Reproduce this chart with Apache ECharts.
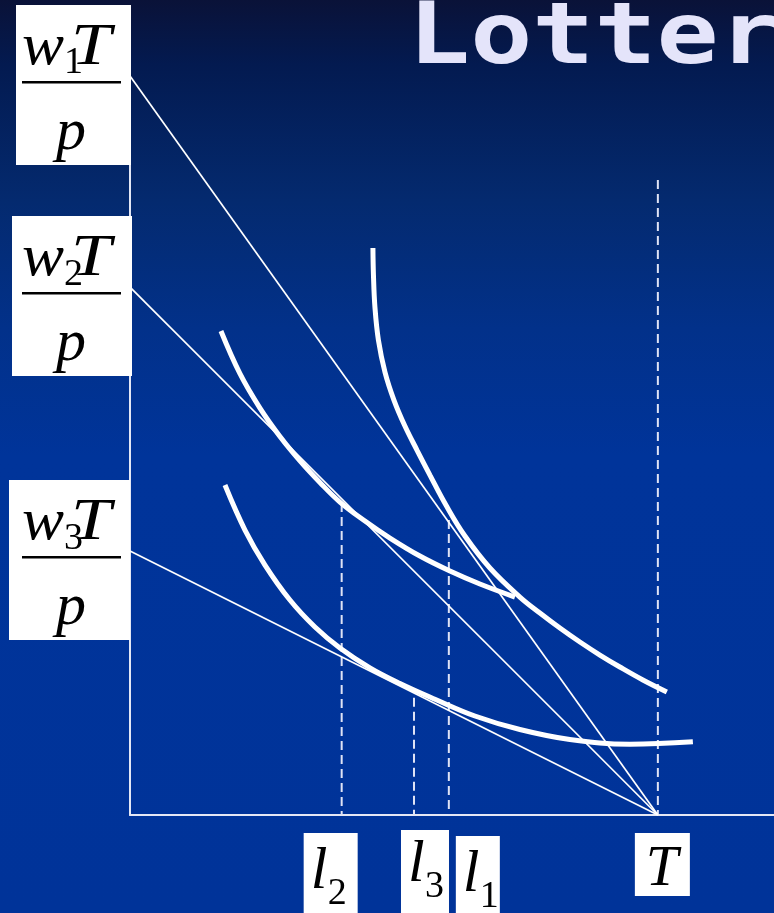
<!DOCTYPE html>
<html>
<head>
<meta charset="utf-8">
<script src="https://cdn.jsdelivr.net/npm/echarts@6/dist/echarts.min.js"></script>
<style>
html,body{margin:0;padding:0;width:774px;height:913px;overflow:hidden;}
#c{width:774px;height:913px;}
</style>
</head>
<body>
<div id="c"></div>
<script>
// ---- data ----
const titleText = 'Lottery';
const totalTime = 100;                       // T
const interceptSubs = ['1', '2', '3'];       // w1T/p, w2T/p, w3T/p
const budgetIntercepts = [140, 100, 50];     // vertical intercepts of budget lines
const hourSubs = ['2', '3', '1'];            // l2, l3, l1
const hourValues = [40.1, 53.8, 60.4];       // chosen leisure hours
const hourTops = [59.1, 22.2, 55.9];         // top of dashed guide lines
const totalTop = 120.3;                      // top of dashed line at T

const icHigh = [[46.02,107.39],[46.12,102.27],[46.40,96.21],[47.06,89.96],[48.30,83.90],[50.00,78.60],[52.08,73.67],[54.36,69.13],[56.82,64.39],[59.85,58.71],[63.45,52.84],[68.18,46.78],[73.86,41.29],[77.65,38.26],[81.44,35.42],[85.23,32.77],[89.02,30.30],[92.80,28.03],[97.16,25.57],[101.70,23.30]];
const icMid = [[17.23,91.67],[20.83,83.60],[24.62,77.08],[28.41,71.70],[32.20,67.08],[35.98,62.99],[39.77,59.28],[44.51,55.68],[49.24,52.46],[54.92,49.05],[60.61,46.21],[66.29,43.75],[72.92,41.29]];
const icLow = [[17.99,62.50],[21.78,53.98],[25.57,47.35],[30.30,40.72],[35.04,35.61],[39.77,31.63],[45.45,27.88],[51.14,24.92],[57.77,21.93],[65.34,18.75],[73.86,16.19],[83.33,14.30],[94.70,13.39],[106.63,13.86]];

// ---- chart ----
const chart = echarts.init(document.getElementById('c'), null, {renderer: 'canvas'});
const axisCommon = {
  type: 'value',
  axisLine: {show: true, onZero: false, lineStyle: {color: '#e4e7f5', width: 2}},
  axisTick: {show: false},
  axisLabel: {show: false},
  splitLine: {show: false}
};
const series = [];
budgetIntercepts.forEach((b, i) => {
  series.push({
    type: 'line', name: 'budget' + (i + 1), symbol: 'none', silent: true,
    data: [[0, b], [totalTime, 0]],
    lineStyle: {color: '#ffffff', width: 1.7}, z: 3
  });
});
[icHigh, icMid, icLow].forEach((d, i) => {
  series.push({
    type: 'line', name: 'ic' + i, symbol: 'none', smooth: 0.4, silent: true,
    data: d,
    lineStyle: {color: '#ffffff', width: 5, cap: 'butt'}, z: 4
  });
});
hourValues.concat([totalTime]).forEach((h, i) => {
  const top = i < hourTops.length ? hourTops[i] : totalTop;
  series.push({
    type: 'line', name: 'guide' + i, symbol: 'none', silent: true,
    data: [[h, top], [h, 0]],
    lineStyle: {color: '#dfe3f5', width: 2, type: [9, 5]}, z: 2
  });
});

chart.setOption({
  animation: false,
  backgroundColor: {
    type: 'linear', x: 0, y: 0, x2: 0, y2: 1,
    colorStops: [
      {offset: 0, color: '#0a1238'},
      {offset: 0.07, color: '#031a50'},
      {offset: 0.22, color: '#042a6f'},
      {offset: 0.36, color: '#02318a'},
      {offset: 0.5, color: '#00349a'},
      {offset: 1, color: '#003399'}
    ]
  },
  grid: {left: 130, right: 0, top: 40, bottom: 98},
  xAxis: Object.assign({}, axisCommon, {min: 0, max: 122}),
  yAxis: Object.assign({}, axisCommon, {min: 0, max: 146.8}),
  series: series
});

// ---- labels (white boxes with math text) ----
const K = 0.3; // baseline offset for middle-aligned serif text
function txt(x, baseline, text, size, italic, align, sx) {
  return {
    type: 'text', x: x, y: baseline - K * size, z: 50,
    scaleX: sx || 1,
    style: {
      text: text,
      font: (italic ? 'italic ' : '') + size + 'px "Liberation Serif"',
      fill: '#000000',
      textAlign: align || 'left',
      textVerticalAlign: 'middle'
    }
  };
}
const graphics = [];
graphics.push({
  type: 'text', x: 408, y: 66 - 0.297 * 86, z: 60, scaleX: 1.2,
  style: {text: titleText, font: 'bold 86px "DejaVu Sans Mono"', fill: '#E4E4FA', textAlign: 'left', textVerticalAlign: 'middle'}
});
const boxLayout = [
  {left: 16, w: 115},
  {left: 12, w: 120},
  {left: 9, w: 121}
];
const boxH = 160;
budgetIntercepts.forEach((b, i) => {
  const py = chart.convertToPixel({gridIndex: 0}, [0, b])[1];
  const top = py + 9 - boxH / 2;
  const B = boxLayout[i];
  const a = -B.left; // children use absolute x
  graphics.push({
    type: 'group', x: B.left, y: top, z: 50,
    children: [
      {type: 'rect', shape: {x: 0, y: 0, width: B.w, height: boxH}, style: {fill: '#ffffff'}, z: 49},
      txt(22 + a, 61, 'w', 60, true, 'left', 1.05),
      txt(64 + a, 70, interceptSubs[i], 38, false),
      txt(71 + a, 61, 'T', 60, true, 'left', 1.2),
      {type: 'rect', shape: {x: 22 + a, y: 76, width: 99, height: 2.5}, style: {fill: '#000000'}, z: 50},
      txt(71 + a, 146, 'p', 60, true, 'center')
    ]
  });
});
// bottom labels: offsets relative to guide positions
const bottomLayout = [
  {dx: -38, dy: 18, w: 54, h: 90, base: 57},
  {dx: -13, dy: 15, w: 48, h: 90, base: 53},
  {dx: 7, dy: 21, w: 44, h: 90, base: 57}
];
hourValues.forEach((h, i) => {
  const p = chart.convertToPixel({gridIndex: 0}, [h, 0]);
  const L = bottomLayout[i];
  graphics.push({
    type: 'group', x: p[0] + L.dx, y: p[1] + L.dy, z: 50,
    children: [
      {type: 'rect', shape: {x: 0, y: 0, width: L.w, height: L.h}, style: {fill: '#ffffff'}, z: 49},
      txt(7, L.base, 'l', 60, true),
      txt(24, L.base + 15, hourSubs[i], 38, false)
    ]
  });
});
(function () {
  const p = chart.convertToPixel({gridIndex: 0}, [totalTime, 0]);
  graphics.push({
    type: 'group', x: p[0] - 23, y: p[1] + 18, z: 50,
    children: [
      {type: 'rect', shape: {x: 0, y: 0, width: 55, height: 63}, style: {fill: '#ffffff'}, z: 49},
      txt(27, 54, 'T', 58, true, 'center')
    ]
  });
})();
chart.setOption({graphic: graphics});
</script>
</body>
</html>
